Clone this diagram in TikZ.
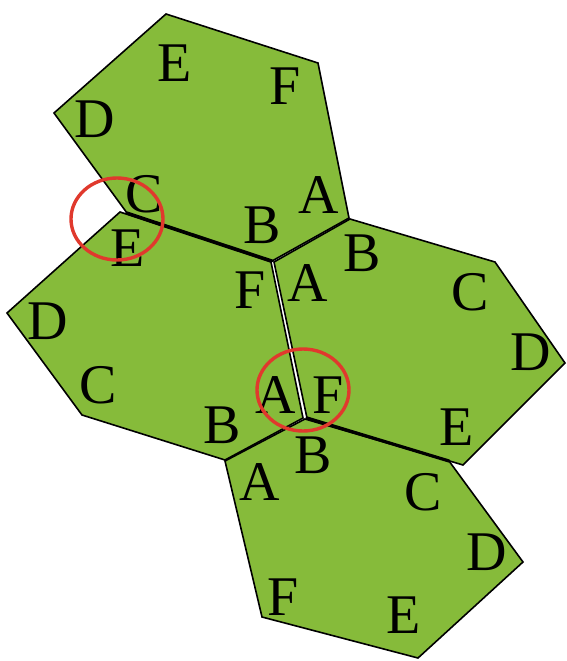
\documentclass[tikz,border=0pt]{standalone}
\usepackage{fontspec}
\setmainfont{Liberation Serif}
\definecolor{leaf}{HTML}{86BB3A}
\definecolor{ringred}{HTML}{E0392D}
\begin{document}
\begin{tikzpicture}[x=1pt,y=-1pt,
  hex/.style={fill=leaf,draw=black,line width=1.6pt,line join=miter},
  seam/.style={draw=black,line width=3.2pt,line cap=round},
  lbl/.style={font=\fontsize{56}{56}\selectfont,inner sep=0pt,anchor=center},
  ring/.style={draw=ringred,line width=3.4pt}]
\useasboundingbox (0,0) rectangle (566,661);
% top hexagon
\coordinate (h1a) at (166,14);
\coordinate (h1b) at (318,63);
\coordinate (h1c) at (349,218);
\coordinate (h1d) at (272,261);
\coordinate (h1e) at (127,213);
\coordinate (h1f) at (54,113);
% left hexagon
\coordinate (h2a) at (120,212);
\coordinate (h2b) at (271,262);
\coordinate (h2c) at (303,418);
\coordinate (h2d) at (225,460);
\coordinate (h2e) at (82,415);
\coordinate (h2f) at (7,313);
% right hexagon
\coordinate (h3a) at (274,262);
\coordinate (h3b) at (350,219);
\coordinate (h3c) at (495,262);
\coordinate (h3d) at (565,363);
\coordinate (h3e) at (463,465);
\coordinate (h3f) at (307,418);
% bottom hexagon
\coordinate (h4a) at (305,419);
\coordinate (h4b) at (449,461);
\coordinate (h4c) at (523,562);
\coordinate (h4d) at (418,658);
\coordinate (h4e) at (262,617);
\coordinate (h4f) at (225,461);

\draw[hex] (h1a) -- (h1b) -- (h1c) -- (h1d) -- (h1e) -- (h1f) -- cycle;
\draw[hex] (h2a) -- (h2b) -- (h2c) -- (h2d) -- (h2e) -- (h2f) -- cycle;
\draw[hex] (h3a) -- (h3b) -- (h3c) -- (h3d) -- (h3e) -- (h3f) -- cycle;
\draw[hex] (h4a) -- (h4b) -- (h4c) -- (h4d) -- (h4e) -- (h4f) -- cycle;
% shared seams
\draw[seam] (h1e) -- (h1d);
\draw[seam] (h3f) -- (h4b);

% labels top hexagon
\node[lbl] (t1E) at (175,63) {E};
\node[lbl] (t1F) at (285,86) {F};
\node[lbl] (t1D) at (95,119) {D};
\node[lbl] (t1C) at (144,194) {C};
\node[lbl] (t1B) at (262,225) {B};
\node[lbl] (t1A) at (319,195) {A};
% labels left hexagon
\node[lbl] (t2E) at (128,248) {E};
\node[lbl] (t2F) at (250,290) {F};
\node[lbl] (t2D) at (48,321) {D};
\node[lbl] (t2C) at (98,385) {C};
\node[lbl] (t2B) at (222,425) {B};
\node[lbl] (t2A) at (276,395) {A};
% labels right hexagon
\node[lbl] (t3B) at (362,253) {B};
\node[lbl] (t3A) at (308,283) {A};
\node[lbl] (t3C) at (470,292) {C};
\node[lbl] (t3D) at (531,352) {D};
\node[lbl] (t3E) at (457,427) {E};
\node[lbl] (t3F) at (328,395) {F};
% labels bottom hexagon
\node[lbl] (t4B) at (313,455) {B};
\node[lbl] (t4A) at (260,482) {A};
\node[lbl] (t4C) at (423,492) {C};
\node[lbl] (t4D) at (487,552) {D};
\node[lbl] (t4F) at (283,597) {F};
\node[lbl] (t4E) at (404,615) {E};

% red rings
\draw[ring] (117,219) ellipse [x radius=46, y radius=41];
\draw[ring] (303,390) ellipse [x radius=46, y radius=41];
\end{tikzpicture}
\end{document}
